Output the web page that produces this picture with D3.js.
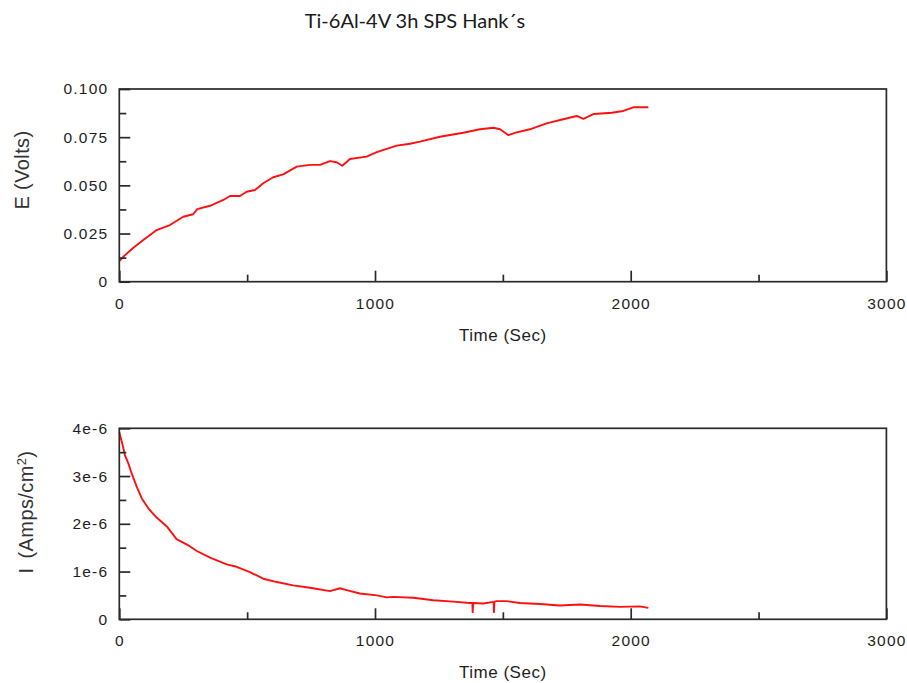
<!DOCTYPE html>
<html>
<head>
<meta charset="utf-8">
<script src="https://cdn.jsdelivr.net/npm/d3@7/dist/d3.min.js"></script>
<style>
  html, body { margin: 0; padding: 0; background: #ffffff; }
  svg { display: block; }
  .tick text { font-family: "Liberation Sans", Arial, sans-serif; font-size: 15.5px; fill: #1e1e1e; letter-spacing: 1.2px; }
  .tick line { stroke: #2a2a2a; stroke-width: 1.7px; }
</style>
</head>
<body>
<svg id="chart" width="907" height="683"></svg>
<script>
// ---------------- DATA ----------------
const chartTitle = "Ti-6Al-4V 3h SPS Hank\u00B4s";
const timeTicks = [0, 1000, 2000, 3000];
const timeTickLabels = ["0", "1000", "2000", "3000"];
const eTicks = [0, 0.025, 0.05, 0.075, 0.1];
const eTickLabels = ["0", "0.025", "0.050", "0.075", "0.100"];
const iTicks = [0, 1e-6, 2e-6, 3e-6, 4e-6];
const iTickLabels = ["0", "1e-6", "2e-6", "3e-6", "4e-6"];

// Potential vs time (Sec, Volts)
const eTime = [0, 16, 55, 94, 146, 198, 250, 289, 305, 355, 407, 433, 472, 498, 531, 563, 602, 641, 694, 746, 785, 824, 850, 872, 902, 967, 1007, 1046, 1085, 1137, 1176, 1254, 1345, 1411, 1463, 1489, 1521, 1554, 1606, 1671, 1736, 1789, 1815, 1854, 1926, 1971, 2010, 2069];
const eVolts = [0.0107, 0.0130, 0.0176, 0.0216, 0.0268, 0.0294, 0.0337, 0.0350, 0.0377, 0.0394, 0.0424, 0.0445, 0.0445, 0.0467, 0.0476, 0.0511, 0.0542, 0.0557, 0.0597, 0.0606, 0.0606, 0.0626, 0.0620, 0.0602, 0.0637, 0.0649, 0.0672, 0.0689, 0.0706, 0.0716, 0.0727, 0.0752, 0.0773, 0.0791, 0.0799, 0.0791, 0.0761, 0.0775, 0.0791, 0.0822, 0.0843, 0.0860, 0.0845, 0.0870, 0.0877, 0.0886, 0.0905, 0.0905];

// Current density vs time (Sec, Amps/cm^2)
const iTime = [0, 13, 22, 35, 48, 68, 88, 114, 146, 185, 224, 270, 303, 355, 420, 459, 511, 563, 616, 680, 746, 824, 863, 889, 941, 1007, 1046, 1072, 1150, 1228, 1306, 1371, 1381, 1382, 1384, 1424, 1456, 1464, 1465, 1467, 1476, 1515, 1567, 1645, 1723, 1802, 1880, 1958, 2036, 2069];
const iAmps = [3.92e-6, 3.65e-6, 3.44e-6, 3.27e-6, 3.06e-6, 2.78e-6, 2.53e-6, 2.32e-6, 2.13e-6, 1.95e-6, 1.68e-6, 1.55e-6, 1.43e-6, 1.29e-6, 1.15e-6, 1.10e-6, 0.99e-6, 0.85e-6, 0.78e-6, 0.71e-6, 0.66e-6, 0.59e-6, 0.65e-6, 0.61e-6, 0.54e-6, 0.50e-6, 0.46e-6, 0.47e-6, 0.45e-6, 0.40e-6, 0.37e-6, 0.34e-6, 0.34e-6, 0.15e-6, 0.34e-6, 0.33e-6, 0.36e-6, 0.36e-6, 0.15e-6, 0.37e-6, 0.38e-6, 0.38e-6, 0.34e-6, 0.32e-6, 0.29e-6, 0.31e-6, 0.28e-6, 0.26e-6, 0.27e-6, 0.24e-6];

// ---------------- LAYOUT ----------------
const svg = d3.select("#chart");
const plotLeft = 119.3, plotRight = 886.4;

const panels = [
  { top: 89, bottom: 281.7, yDomain: [0, 0.1], ticks: eTicks, labels: eTickLabels,
    minor: [0.0125, 0.0375, 0.0625, 0.0875],
    xs: eTime, ys: eVolts, title: "E (Volts)", titleX: 22, titleY: 170 },
  { top: 428.3, bottom: 619.3, yDomain: [0, 4e-6], ticks: iTicks, labels: iTickLabels,
    minor: [0.5e-6, 1.5e-6, 2.5e-6, 3.5e-6],
    xs: iTime, ys: iAmps, title: null, titleX: 26, titleY: 512 }
];

const x = d3.scaleLinear().domain([0, 3000]).range([plotLeft, plotRight]);
const minorTime = [500, 1500, 2500];

panels.forEach((p, idx) => {
  const y = d3.scaleLinear().domain(p.yDomain).range([p.bottom, p.top]);
  const g = svg.append("g");

  // line
  const pts = p.xs.map((t, i) => [t, p.ys[i]]);
  g.append("path")
    .datum(pts)
    .attr("fill", "none")
    .attr("stroke", "#ff1010")
    .attr("stroke-width", 1.9)
    .attr("stroke-linejoin", "round")
    .attr("d", d3.line().x(d => x(d[0])).y(d => y(d[1])));

  // x axis major
  const xa = g.append("g").attr("transform", `translate(0,${p.bottom})`)
    .call(d3.axisBottom(x).tickValues(timeTicks).tickSize(-11).tickPadding(16)
      .tickFormat((d, i) => timeTickLabels[i]));
  xa.select(".domain").remove();
  // x axis minor
  const xm = g.append("g").attr("transform", `translate(0,${p.bottom})`)
    .call(d3.axisBottom(x).tickValues(minorTime).tickSize(-7).tickFormat(""));
  xm.select(".domain").remove();

  // y axis major
  const ya = g.append("g").attr("transform", `translate(${plotLeft},0)`)
    .call(d3.axisLeft(y).tickValues(p.ticks).tickSize(-11).tickPadding(11)
      .tickFormat((d, i) => p.labels[i]));
  ya.select(".domain").remove();
  const ym = g.append("g").attr("transform", `translate(${plotLeft},0)`)
    .call(d3.axisLeft(y).tickValues(p.minor).tickSize(-7).tickFormat(""));
  ym.select(".domain").remove();

  // frame
  g.append("rect")
    .attr("x", plotLeft).attr("y", p.top)
    .attr("width", plotRight - plotLeft).attr("height", p.bottom - p.top)
    .attr("fill", "none").attr("stroke", "#2a2a2a").attr("stroke-width", 1.7);

  // x axis title
  g.append("text")
    .attr("x", (plotLeft + plotRight) / 2)
    .attr("y", p.bottom + 59)
    .attr("text-anchor", "middle")
    .style("font-family", "'Liberation Sans', Arial, sans-serif")
    .style("font-size", "17px")
    .style("letter-spacing", "0.5px")
    .style("fill", "#1e1e1e")
    .text("Time (Sec)");

  // y axis title
  const yt = g.append("text")
    .attr("transform", `translate(${p.titleX},${p.titleY}) rotate(-90)`)
    .attr("text-anchor", "middle")
    .attr("dy", "0.35em")
    .style("font-family", "'Liberation Sans', Arial, sans-serif")
    .style("font-size", "20px")
    .style("letter-spacing", "0.4px")
    .style("fill", "#333");
  if (p.title) {
    yt.text(p.title);
  } else {
    yt.append("tspan").text("I");
    yt.append("tspan").attr("dx", 9).text("(Amps/cm");
    yt.append("tspan").attr("dy", -7).style("font-size", "13px").text("2");
    yt.append("tspan").attr("dy", 7).text(")");
  }
});

// chart title
svg.append("text")
  .attr("x", 415)
  .attr("y", 28)
  .attr("text-anchor", "middle")
  .style("font-family", "Lato, 'Open Sans', sans-serif")
  .style("font-size", "20px")
  .style("fill", "#1a1a1a")
  .text(chartTitle);
</script>
</body>
</html>
